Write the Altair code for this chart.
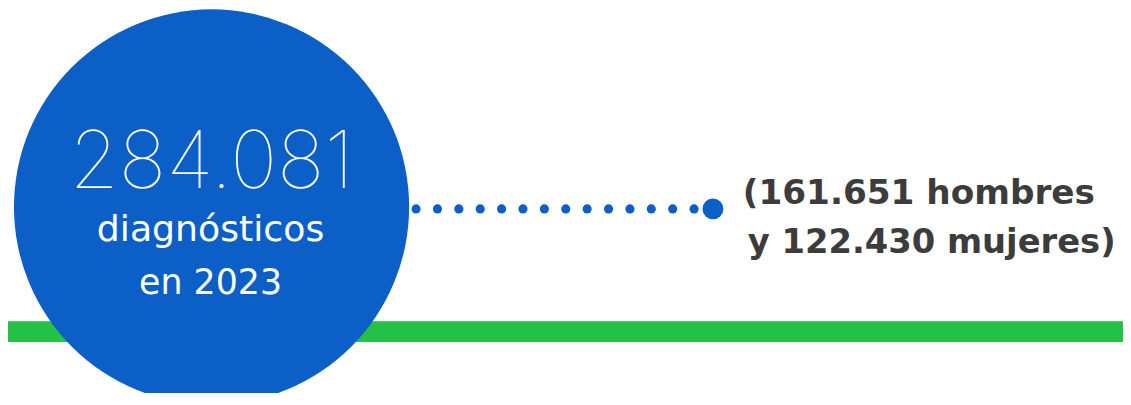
import altair as alt
import pandas as pd

# ---- data ----
total_cases = [284081]
men_cases = [161651]
women_cases = [122430]
year = [2023]
dot_index = list(range(14))

def fmt(v):
    return f"{v:,}".replace(",", ".")

W, H = 1123, 385
BLUE = "#0B5FC7"
GREEN = "#23C146"
GREY = "#3C3C3C"

one = pd.DataFrame({"k": [0]})
labels = pd.DataFrame({
    "big": [fmt(total_cases[0])],
    "l1": ["diagnósticos"],
    "l2": [f"en {year[0]}"],
    "r1": [f"({fmt(men_cases[0])} hombres"],
    "r2": [f"y {fmt(women_cases[0])} mujeres)"],
})
dots = pd.DataFrame({"i": dot_index})

bar = alt.Chart(one).mark_rect(color=GREEN).encode(
    x=alt.value(0), x2=alt.value(W), y=alt.value(314), y2=alt.value(335)
)
circle = alt.Chart(one).mark_point(
    shape="circle", filled=True, color=BLUE, opacity=1, size=158404, strokeWidth=0
).encode(x=alt.value(205), y=alt.value(199))

small_dots = alt.Chart(dots).mark_point(
    shape="circle", filled=True, color=BLUE, opacity=1, size=85, strokeWidth=0
).encode(
    x=alt.X("i:Q", scale=alt.Scale(domain=[0, 13], range=[411, 691]), axis=None),
    y=alt.value(201),
)
big_dot = alt.Chart(one).mark_point(
    shape="circle", filled=True, color=BLUE, opacity=1, size=441, strokeWidth=0
).encode(x=alt.value(710), y=alt.value(201))

big_text = alt.Chart(labels).mark_text(
    font="Inter", fontWeight=100, fontSize=80, color="white", align="center",
    baseline="alphabetic"
).encode(text="big:N", x=alt.value(205), y=alt.value(180))
l1 = alt.Chart(labels).mark_text(
    font="DejaVu Sans", fontSize=36.5, color="white", align="center", baseline="alphabetic"
).encode(text="l1:N", x=alt.value(204), y=alt.value(233))
l2 = alt.Chart(labels).mark_text(
    font="DejaVu Sans", fontSize=35, color="white", align="center", baseline="alphabetic"
).encode(text="l2:N", x=alt.value(204), y=alt.value(287))
r1 = alt.Chart(labels).mark_text(
    font="DejaVu Sans", fontWeight="bold", fontSize=34.5, color=GREY, align="left",
    baseline="alphabetic"
).encode(text="r1:N", x=alt.value(740), y=alt.value(196))
r2 = alt.Chart(labels).mark_text(
    font="DejaVu Sans", fontWeight="bold", fontSize=34, color=GREY, align="left",
    baseline="alphabetic"
).encode(text="r2:N", x=alt.value(745), y=alt.value(245))

chart = alt.layer(bar, circle, small_dots, big_dot, big_text, l1, l2, r1, r2).properties(
    width=W, height=H, padding=0, autosize=alt.AutoSizeParams(type="none"),
    background="white"
).configure_view(stroke=None)

chart.save("out.html", embed_options={"renderer": "svg", "actions": False})
